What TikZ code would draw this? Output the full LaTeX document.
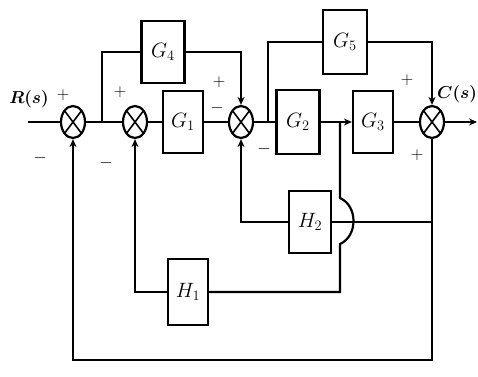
\documentclass[tikz,border=0pt]{standalone}
\usepackage{amsmath}
\usepackage{tikz}
\usetikzlibrary{arrows.meta, positioning, calc, shapes.geometric}

\tikzset{
  block/.style={draw, line width=2.2pt, minimum width=40pt, minimum height=62pt,
                inner sep=0pt, font=\huge},
  sumjn/.style={draw, ellipse, line width=2.2pt, minimum width=24pt, minimum height=32pt,
                inner sep=0pt,
                path picture={\draw[line width=1.6pt]
                  (path picture bounding box.south west) -- (path picture bounding box.north east)
                  (path picture bounding box.north west) -- (path picture bounding box.south east);}},
  sgn/.style={font=\LARGE},
  wire/.style={line width=2.2pt},
  sig/.style={line width=2.2pt, -{Stealth[length=8pt, width=7pt]}}
}

\begin{document}
\begin{tikzpicture}[x=1pt, y=-1pt]
      \useasboundingbox (0,0) rectangle (478,376);
      % main path
      \node[sumjn] (sum1) at (73,122) {};
      \node[sumjn] (sum2) at (135,122) {};
      \node[block] (g1) at (183,122) {$G_1$};
      \node[sumjn] (sum3) at (241,122) {};
      \node[block, minimum width=43pt, minimum height=64pt] (g2) at (298,122) {$G_2$};
      \node[block] (g3) at (373,122) {$G_3$};
      \node[sumjn] (sum4) at (432,122) {};
      % forward branches
      \node[block, minimum width=43pt] (g4) at (163,52) {$G_4$};
      \node[block, minimum width=44pt, minimum height=64pt] (g5) at (345,42) {$G_5$};
      % feedback blocks
      \node[block, minimum width=42pt] (h2) at (310,222) {$H_2$};
      \node[block, minimum height=66pt] (h1) at (188,292) {$H_1$};
      % free ends and take-off points
      \coordinate (rin) at (28,122);
      \coordinate (cout) at (477,122);
      \coordinate (tap4) at (102,122);
      \coordinate (tap5) at (268,122);
      \coordinate (tap1) at (340,122);
      \coordinate (tap2) at (432,222);
      \coordinate (lowR) at (432,360);
      % labels
      \node[font=\LARGE] (rlab) at (29,99) {$\boldsymbol{R(s)}$};
      \node[font=\LARGE, anchor=south east, inner sep=1pt] (clab) at (478,104) {$\boldsymbol{C(s)}$};
      \node[sgn] (p1) at (63,95) {$+$};
      \node[sgn] (m1) at (40,158) {$-$};
      \node[sgn] (p2) at (120,92) {$+$};
      \node[sgn] (m2) at (106,163) {$-$};
      \node[sgn] (p3) at (219,82) {$+$};
      \node[sgn] (m3) at (217,108) {$-$};
      \node[sgn] (m4) at (264,149) {$-$};
      \node[sgn] (p4) at (407,80) {$+$};
      \node[sgn] (p5) at (417,155) {$+$};
      % connections
      \draw[wire] (rin) -- (sum1);
      \draw[wire] (sum1) -- (sum2);
      \draw[wire] (sum2) -- (g1);
      \draw[wire] (g1) -- (sum3);
      \draw[wire] (sum3) -- (g2);
      \draw[sig] (g2) -- (g3);
      \draw[wire] (g3) -- (sum4);
      \draw[sig] (sum4) -- (cout);
      \draw[wire] (tap4) |- (g4);
      \draw[sig] (g4) -| (sum3);
      \draw[wire] (tap5) |- (g5);
      \draw[sig] (g5) -| (sum4);
      \draw[wire] (tap2) -- (h2);
      \draw[sig] (h2) -| (sum3);
      \draw[wire] (tap1) -- (340,198)
        .. controls (358,206) and (358,236) .. (340,244) |- (h1);
      \draw[sig] (h1) -| (sum2);
      \draw[sig] (sum4) -- (lowR) -| (sum1);
\end{tikzpicture}
\end{document}
